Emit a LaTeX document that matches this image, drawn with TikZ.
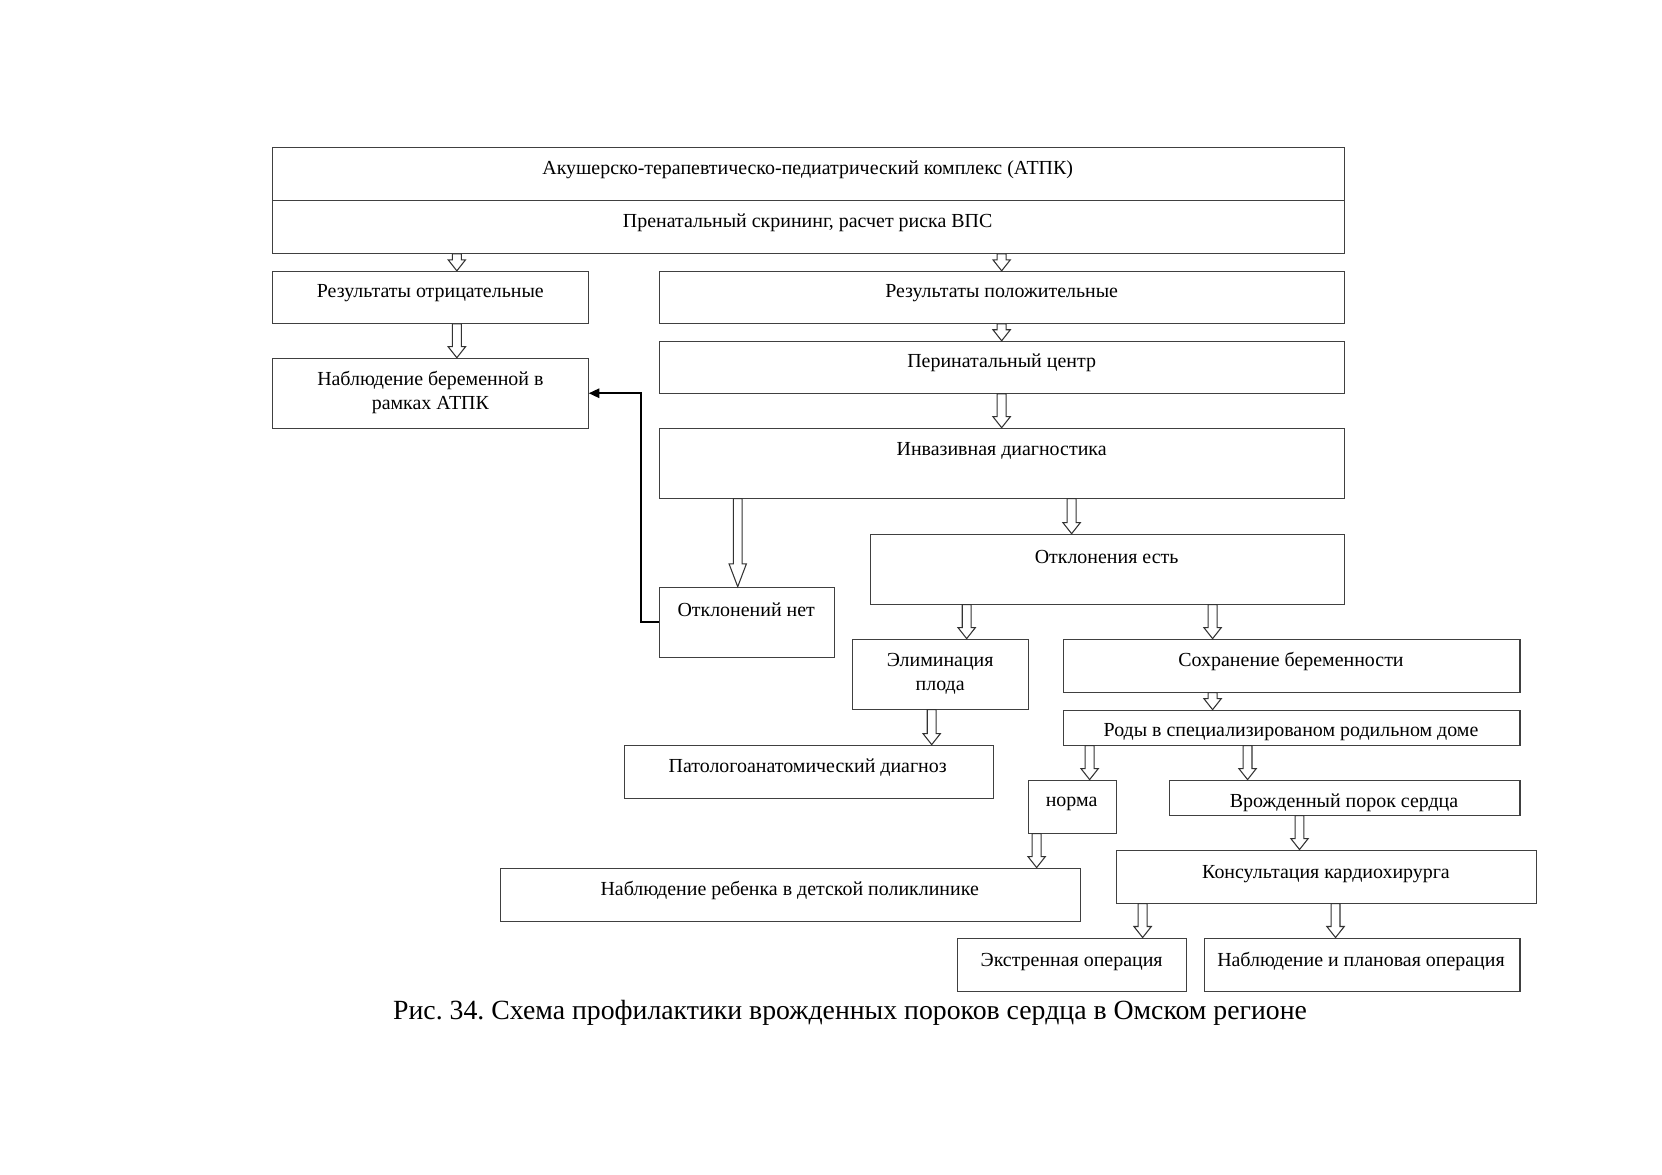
\documentclass[tikz,border=0pt]{standalone}
\usepackage{fontspec}
\setmainfont{Liberation Serif}
\frenchspacing
\usetikzlibrary{calc,arrows.meta}
\tikzset{
  box/.style={draw=black!75, line width=0.5pt, inner sep=0pt, fill=none},
  txt/.style={inner sep=0pt, align=center, font=\fontsize{9.4}{11.4}\selectfont},
  captxt/.style={inner sep=0pt, font=\fontsize{13.1}{15}\selectfont},
  barrow/.style={draw=black!80, line width=0.5pt, fill=white, line join=miter},
  conn/.style={draw=black, line width=0.75pt}
}
\newcommand\bx[5]{\node[box, minimum width={(#4-#2)*0.5pt}, minimum height={(#5-#3)*0.5pt}] (#1) at ({(#2+#4)/2},{(#3+#5)/2}) {};}
\newcommand\barr[4][5.2pt]{\draw[barrow] let \p1=(#2,0), \p2=(#3.south), \p3=(#4.north) in
  (\x1-2.1pt,\y2) -- (\x1-2.1pt,\y3+#1) -- (\x1-4.1pt,\y3+#1) -- (\x1,\y3) -- (\x1+4.1pt,\y3+#1) -- (\x1+2.1pt,\y3+#1) -- (\x1+2.1pt,\y2) -- cycle;}
\begin{document}
\begin{tikzpicture}[x=0.5pt,y=-0.5pt]
\useasboundingbox[fill=white] (0,0) rectangle (1568,1108.5);
% boxes
\bx{b1}{257}{139}{1268}{189}
\bx{b2}{257}{189}{1268}{239}
\bx{b3}{257}{256}{555}{305}
\bx{b4}{622}{256}{1268}{305}
\bx{b5}{257}{338}{555}{404}
\bx{b6}{622}{322}{1268}{371}
\bx{b7}{622}{404}{1268}{470}
\bx{b8}{821}{504}{1268}{570}
\bx{b9}{622}{554}{787}{620}
\bx{b10}{804}{603}{970}{669}
\bx{b11}{1003}{603}{1434}{653}
\bx{b12}{1003}{670}{1434}{703}
\bx{b13}{589}{703}{937}{753}
\bx{b14}{970}{736}{1053}{786}
\bx{b15}{1103}{736}{1434}{769}
\bx{b16}{472}{819}{1019}{869}
\bx{b17}{1053}{802}{1450}{852}
\bx{b18}{903}{885}{1119}{935}
\bx{b19}{1136}{885}{1434}{935}
% texts
\node[txt] (t1) at (762,160.5) {Акушерско-терапевтическо-педиатрический комплекс (АТПК)};
\node[txt] (t2) at (762,210.5) {Пренатальный скрининг, расчет риска ВПС};
\node[txt] (t3) at (406,276.5) {Результаты отрицательные};
\node[txt] (t4) at (945,276.5) {Результаты положительные};
\node[txt] (t5) at (406,370) {Наблюдение беременной в\\рамках АТПК};
\node[txt] (t6) at (945,342.5) {Перинатальный центр};
\node[txt] (t7) at (945,425.5) {Инвазивная диагностика};
\node[txt] (t8) at (1044,525.5) {Отклонения есть};
\node[txt] (t9) at (704,575.5) {Отклонений нет};
\node[txt] (t10) at (887,635.5) {Элиминация\\плода};
\node[txt] (t11) at (1218,624.5) {Сохранение беременности};
\node[txt] (t12) at (1218,690.5) {Роды в специализированом родильном доме};
\node[txt] (t13) at (762,724.5) {Патологоанатомический диагноз};
\node[txt] (t14) at (1011,758.5) {норма};
\node[txt] (t15) at (1268,757.5) {Врожденный порок сердца};
\node[txt] (t16) at (745,840.5) {Наблюдение ребенка в детской поликлинике};
\node[txt] (t17) at (1251,824.5) {Консультация кардиохирурга};
\node[txt] (t18) at (1011,907.5) {Экстренная операция};
\node[txt] (t19) at (1284,907.5) {Наблюдение и плановая операция};
\node[captxt] (caption) at (802,955.5) {Рис. 34. Схема профилактики врожденных пороков сердца в Омском регионе};
% block arrows
\barr{431}{b2}{b3}
\barr{945}{b2}{b4}
\barr{431}{b3}{b5}
\barr{945}{b4}{b6}
\barr{945}{b6}{b7}
\barr[10.8pt]{696}{b7}{b9}
\barr{1011}{b7}{b8}
\barr{912}{b8}{b10}
\barr{1144}{b8}{b11}
\barr{1144}{b11}{b12}
\barr{879}{b10}{b13}
\barr{1028}{b12}{b14}
\barr{1177}{b12}{b15}
\barr{978}{b14}{b16}
\barr{1226}{b15}{b17}
\barr{1078}{b17}{b18}
\barr{1260}{b17}{b19}
% elbow connector
\coordinate (elb) at (605,0);
\draw[conn,-{Triangle[length=5pt,width=4.5pt]}] (b9.west) -- (b9.west -| elb) |- (b5.east);
\end{tikzpicture}
\end{document}
